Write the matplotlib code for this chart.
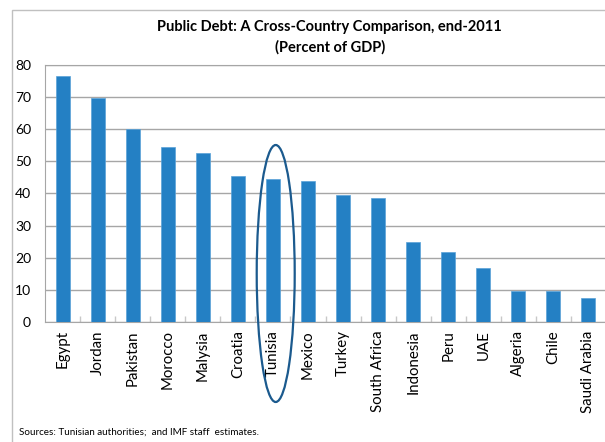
import matplotlib.pyplot as plt
from matplotlib.patches import Ellipse, Rectangle

plt.rcParams['font.family'] = ['Lato', 'DejaVu Sans']

countries = ['Egypt', 'Jordan', 'Pakistan', 'Morocco', 'Malysia', 'Croatia', 'Tunisia',
             'Mexico', 'Turkey', 'South Africa', 'Indonesia', 'Peru', 'UAE', 'Algeria',
             'Chile', 'Saudi Arabia']
debt = [76.5, 69.7, 60.0, 54.5, 52.6, 45.5, 44.5, 43.9, 39.5, 38.6, 24.9, 21.8, 16.9,
        9.8, 9.8, 7.6]
highlight = 'Tunisia'

grid_col = '#a6a6a6'
W, H = 605, 442

fig = plt.figure(figsize=(W / 100, H / 100), dpi=100)
ax = fig.add_axes([45 / W, 120 / H, 561 / W, 257 / H])

x = range(len(countries))
ax.bar(x, debt, width=0.4, color='#2480c4', edgecolor='#5aa2d8', linewidth=0.5, zorder=3)

ax.set_xlim(-0.5, len(countries) - 0.5)
ax.set_ylim(0, 80)
ax.set_yticks(range(0, 81, 10))
ax.yaxis.grid(True, color=grid_col, linewidth=1.0, zorder=0)
ax.tick_params(axis='y', length=0, labelsize=10, pad=10)
ax.set_xticks(list(x))
ax.set_xticklabels(countries, rotation=90, fontsize=10.8)
ax.tick_params(axis='x', length=0, pad=6)
# small category separators sitting on the baseline
ax.set_xticks([i + 0.5 for i in range(len(countries) - 1)], minor=True)
ax.tick_params(axis='x', which='minor', direction='in', length=4, color='#c8c8c8', width=1)

for side in ['left', 'bottom', 'top']:
    ax.spines[side].set_color(grid_col)
ax.spines['right'].set_visible(False)

# ring around the highlighted country (figure-pixel placement, spans below the axis)
i = countries.index(highlight)
cx = ax.transData.transform((i + 0.08, 0))[0] / W
fig.add_artist(Ellipse((cx, 1 - 273.5 / H), 38 / W, 257 / H, transform=fig.transFigure,
                       fill=False, edgecolor='#1b5a8e', linewidth=1.6, zorder=4))

# chart frame
fig.add_artist(Rectangle((12 / W, -0.1), 1.0, (432 / H) + 0.1, transform=fig.transFigure,
                         fill=False, edgecolor='#c0c0c0', linewidth=1.0))

fig.text(0.545, 1 - 27 / H, 'Public Debt: A Cross-Country Comparison, end-2011',
         ha='center', va='center', fontsize=10.5, fontweight='bold')
fig.text(0.545, 1 - 47 / H, '(Percent of GDP)',
         ha='center', va='center', fontsize=10.5, fontweight='bold')
fig.text(19 / W, 1 - 432 / H, 'Sources: Tunisian authorities;  and IMF staff  estimates.',
         ha='left', va='center', fontsize=7.1)

fig.savefig('out.png', dpi=100)
